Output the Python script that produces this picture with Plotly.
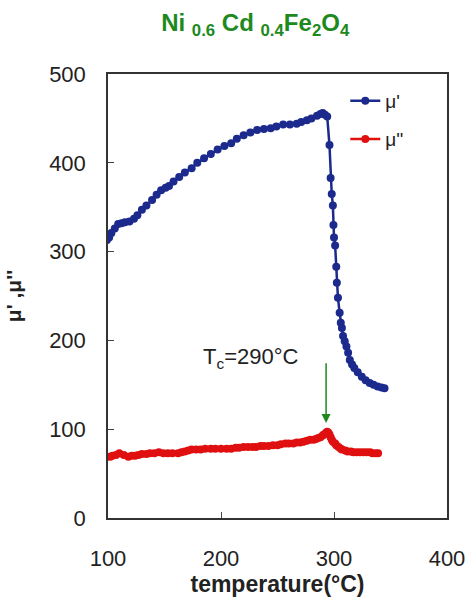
import plotly.graph_objects as go

# mu' (blue) readings
temp_mu1 = [99, 101, 103, 106, 109, 112, 115, 119, 123, 126, 130, 134, 139, 143, 147, 151,
            154, 158, 163, 168, 174, 179, 185, 191, 197, 203, 209, 214, 220, 226, 232,
            238, 244, 249, 255, 261, 267, 271, 276, 280, 285, 288, 290, 292, 294, 296,
            297, 298, 299, 299.5, 300, 301, 302, 302.5, 303.5, 305, 306, 307, 308,
            309.5, 311, 312.5, 314, 316, 318, 321, 324.6, 328, 331.6, 335, 338.6, 342, 344.7]
mu1 = [313, 316, 321, 326, 331, 332, 333, 334, 337, 341, 347, 352, 358, 364, 369, 372,
       374, 379, 384, 389, 394, 400, 405, 410, 415, 419, 422, 427, 431, 434, 437,
       438, 439, 441, 443, 443, 444, 446, 448, 450, 453, 455, 456, 454, 452, 420,
       383, 365, 352, 330, 316, 307, 283, 265, 248, 231, 220, 214, 205,
       199, 193, 186, 178, 173, 169, 164, 159, 155, 152, 150, 148, 147, 146]

# mu'' (red) readings
temp_mu2 = [99, 102, 104, 107, 110, 114, 118, 121, 124, 127, 130, 134, 137, 141, 145, 149,
            153, 157, 162, 165, 168, 171, 174, 178, 182, 186, 191, 195, 200, 205,
            209, 213, 216, 220, 224, 228, 231, 235, 238, 242, 246, 250, 253, 257, 260,
            264, 267, 270, 273, 276, 279, 282, 284, 286, 288, 290, 291, 293, 294,
            295, 296, 297, 298, 299, 301, 302, 304, 306, 307, 310, 312, 315, 317, 320,
            323, 326, 329, 332, 334, 337, 339]
mu2 = [69, 69, 70, 71, 73, 71, 69, 70, 70, 71, 72, 72, 73, 73, 74, 73,
       73, 73, 73, 74, 75, 76, 77, 77, 77, 78, 78, 78, 78, 78,
       78, 79, 79, 80, 80, 80, 80, 81, 81, 81, 82, 82, 83, 84, 84,
       84, 85, 85, 86, 87, 88, 88, 89, 90, 91, 93, 94, 96, 97,
       96, 94, 91, 88, 86, 84, 82, 80, 78, 77, 76, 75, 75, 74, 74,
       74, 74, 74, 74, 73, 73, 73]

x_ticks = [100, 200, 300, 400]
y_ticks = [0, 100, 200, 300, 400, 500]

tc_value = 293
tc_label = "T<sub>c</sub>=290°C"

BLUE = "#1b2a8c"
RED = "#e01010"
GREEN = "#1e8a1e"
FONT = "Liberation Sans, Arial"

fig = go.Figure()
fig.add_trace(go.Scatter(x=temp_mu1, y=mu1, mode="lines+markers", name="μ'",
                         line=dict(color=BLUE, width=2.5),
                         marker=dict(color=BLUE, size=8), legend="legend"))
fig.add_trace(go.Scatter(x=temp_mu2, y=mu2, mode="lines+markers", name="μ''",
                         line=dict(color=RED, width=2.5),
                         marker=dict(color=RED, size=8), legend="legend2"))

fig.add_annotation(x=tc_value, y=107, ax=tc_value, ay=176, xref="x", yref="y",
                   axref="x", ayref="y", showarrow=True, arrowhead=2, arrowsize=1.2,
                   arrowwidth=1.5, arrowcolor=GREEN, text="")
fig.add_annotation(x=226.5, y=180, xref="x", yref="y", text=tc_label, showarrow=False,
                   font=dict(family=FONT, size=22, color="#222"))

legend_common = dict(xanchor="left", yanchor="top", bgcolor="rgba(0,0,0,0)",
                     font=dict(size=19, family=FONT, color="#222"))

fig.update_layout(
    width=470, height=598,
    margin=dict(l=106, r=23, t=74, b=80),
    paper_bgcolor="white", plot_bgcolor="white",
    title=dict(text="<b>Ni <sub>0.6</sub> Cd <sub>0.4</sub>Fe<sub>2</sub>O<sub>4</sub></b>",
               x=0.543, xanchor="center", y=0.963, yanchor="middle",
               font=dict(family=FONT, size=24, color=GREEN)),
    font=dict(family=FONT, color="#222"),
    showlegend=True,
    legend=dict(x=0.70, y=0.982, **legend_common),
    legend2=dict(x=0.70, y=0.896, **legend_common),
)
fig.update_xaxes(range=[100, 400], tickvals=x_ticks, ticks="inside", ticklen=6,
                 showline=True, linecolor="#333", linewidth=1.5, mirror=True,
                 showgrid=False, zeroline=False, tickfont=dict(size=22),
                 ticklabelstandoff=20, automargin=False,
                 title=dict(text="<b>temperature(°C)</b>", font=dict(size=23), standoff=2))
fig.update_yaxes(range=[0, 500], tickvals=y_ticks, ticks="inside", ticklen=6,
                 showline=True, linecolor="#333", linewidth=1.5, mirror=True,
                 showgrid=False, zeroline=False, tickfont=dict(size=22),
                 ticklabelstandoff=16,
                 title=dict(text="<b>μ' ,μ''</b>", font=dict(size=21), standoff=22))

fig.write_html("out.html", config={"displayModeBar": False},
               post_script="document.body.style.margin='0';document.body.style.overflow='hidden';")
